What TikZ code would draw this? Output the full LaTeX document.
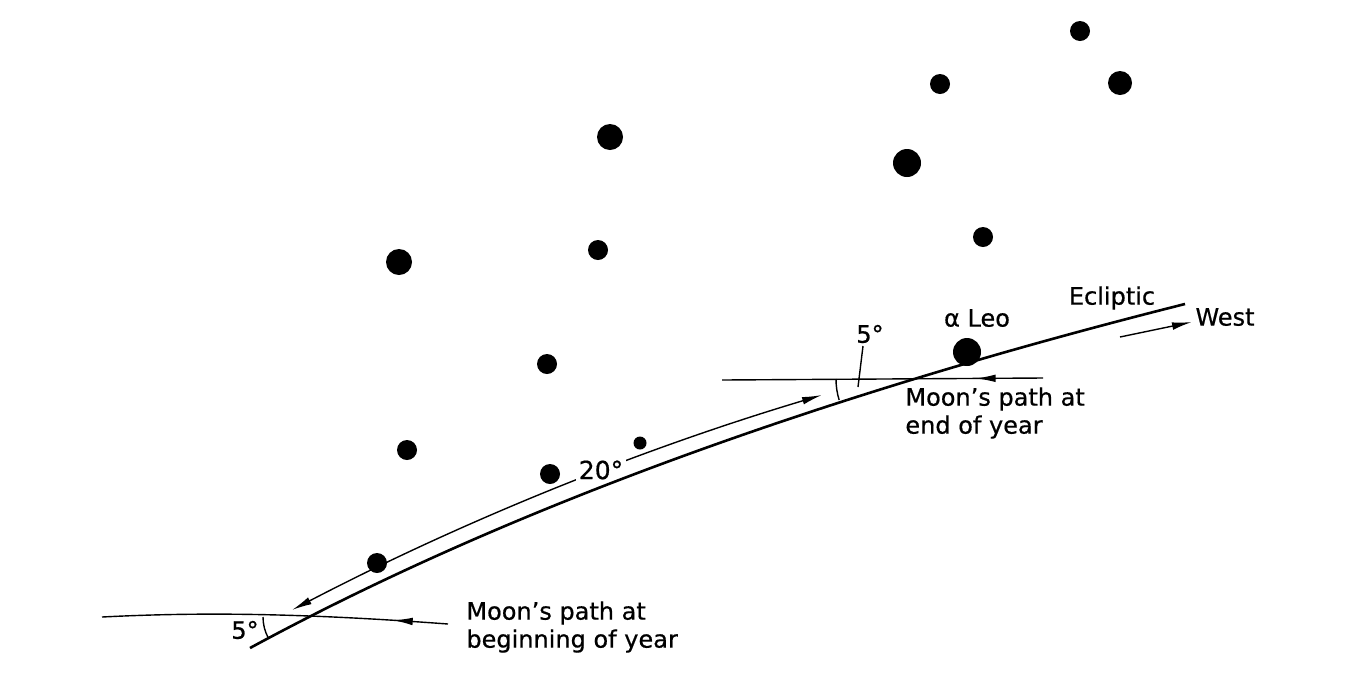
\documentclass[tikz,border=0pt]{standalone}
\usepackage{fontspec}
\setmainfont{DejaVu Sans}[FakeBold=0.6]
\usetikzlibrary{arrows.meta,decorations.markings}
\begin{document}
\begin{tikzpicture}[x=0.5pt,y=-0.5pt,
  star/.style={circle,fill=black,inner sep=0pt},
  eclip/.style={line width=1.3pt},
  thinline/.style={line width=0.7pt},
  lbl/.style={font=\fontsize{12}{14}\selectfont,inner sep=0pt},
  arrowtip/.tip={Latex[length=10pt,width=3.8pt]},
  leftmark/.style={postaction={decorate},decoration={markings,
     mark=at position #1 with {\arrowreversed{Latex[length=10pt,width=3.8pt]}}}}
]
\useasboundingbox (0,0) rectangle (1354,692);

% coordinates
\coordinate (e0) at (250,648);
\coordinate (ec1) at (499,513);
\coordinate (ec2) at (811,398);
\coordinate (e1) at (1185,304);
\coordinate (a0) at (292,610);
\coordinate (ac1) at (461,522);
\coordinate (ac2) at (638,450);
\coordinate (a1) at (822,395);
\coordinate (mb0) at (102,617);
\coordinate (mb1) at (448,624);
\coordinate (me0) at (722,380);
\coordinate (me1) at (1043,378);
\coordinate (xb) at (307,617);
\coordinate (xe) at (908,379);
\coordinate (w0) at (1120,337);
\coordinate (w1) at (1192,322);
\coordinate (ld0) at (863,346);
\coordinate (ld1) at (858,387);

% 20 degree double arrow along the ecliptic
\draw[thinline,arrowtip-arrowtip] (a0) .. controls (ac1) and (ac2) .. (a1);
\node[lbl,font=\fontsize{12.5}{14}\selectfont,fill=white,inner sep=1.5pt] (twenty) at (601,470) {20°};

% ecliptic
\draw[eclip] (e0) .. controls (ec1) and (ec2) .. (e1);

% Moon's paths
\draw[thinline,leftmark=0.84] (mb0) .. controls (200,612) and (300,613) .. (mb1);
\draw[thinline,leftmark=0.79] (me0) -- (me1);

% angle arcs
\draw[thinline] (xb) ++(180:44) arc[start angle=180,end angle=152,radius=44];
\draw[thinline] (xe) ++(180:72) arc[start angle=180,end angle=163,radius=72];
\draw[thinline] (ld0) -- (ld1);

% West arrow
\draw[thinline,-arrowtip] (w0) -- (w1);

% labels
\node[lbl] (fiveb) at (245,630) {5°};
\node[lbl] (fivee) at (870,334) {5°};
\node[lbl] (aleo) at (977,318) {α Leo};
\node[lbl] (eclbl) at (1112,298) {Ecliptic};
\node[lbl] (west) at (1225,317) {West};
\node[lbl,align=left,anchor=north west] (mbl) at (466,601) {Moon’s path at\\beginning of year};
\node[lbl,align=left,anchor=north west] (mel) at (905,387) {Moon’s path at\\end of year};

% stars
\node[star,minimum size=10pt] (s1) at (1080,31) {};
\node[star,minimum size=10pt] (s2) at (940,84) {};
\node[star,minimum size=12pt] (s3) at (1120,83) {};
\node[star,minimum size=13pt] (s4) at (610,137) {};
\node[star,minimum size=14pt] (s5) at (907,163) {};
\node[star,minimum size=10pt] (s6) at (598,250) {};
\node[star,minimum size=10pt] (s7) at (983,237) {};
\node[star,minimum size=13pt] (s8) at (399,262) {};
\node[star,minimum size=10pt] (s9) at (547,364) {};
\node[star,minimum size=14pt] (s10) at (967,352) {};
\node[star,minimum size=10pt] (s11) at (407,450) {};
\node[star,minimum size=6.5pt] (s12) at (640,443) {};
\node[star,minimum size=10pt] (s13) at (550,474) {};
\node[star,minimum size=10pt] (s14) at (377,563) {};
\end{tikzpicture}
\end{document}
